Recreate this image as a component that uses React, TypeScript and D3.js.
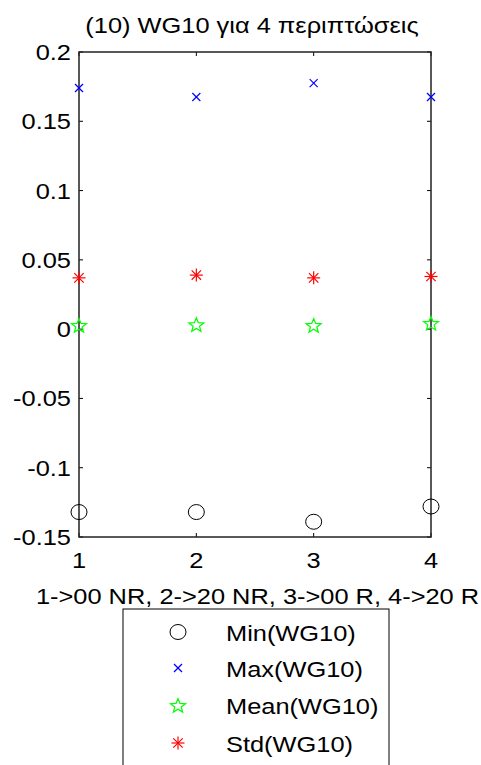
import React from "react";
import * as d3 from "d3";

const cases = [1, 2, 3, 4];
const minVals = [-0.132, -0.132, -0.139, -0.128];
const maxVals = [0.174, 0.1675, 0.1775, 0.1675];
const meanVals = [0.003, 0.0035, 0.003, 0.0045];
const stdVals = [0.037, 0.039, 0.037, 0.038];
const yTicks = [0.2, 0.15, 0.1, 0.05, 0, -0.05, -0.1, -0.15];
const yTickLabels = ["0.2", "0.15", "0.1", "0.05", "0", "-0.05", "-0.1", "-0.15"];
const xTicks = [1, 2, 3, 4];
const legendLabels = ["Min(WG10)", "Max(WG10)", "Mean(WG10)", "Std(WG10)"];
const titleText = "(10) WG10 για 4 περιπτώσεις";
const xLabelText = "1->00 NR, 2->20 NR, 3->00 R, 4->20 R";

const W = 481, H = 765;
const L = 79, R = 431, T = 52, B = 537;
const FONT = "'Liberation Sans', Arial, sans-serif";
const FS = 22;
const SX = 1.155;

function SText({ x, y, anchor, children }: { x: number; y: number; anchor?: string; children: React.ReactNode }) {
  return (
    <g transform={`translate(${x},${y}) scale(${SX},1)`}>
      <text x={0} y={0} fontSize={FS} textAnchor={anchor || "start"} fill="#000">{children}</text>
    </g>
  );
}

function Marker({ kind, x, y }: { kind: string; x: number; y: number }) {
  if (kind === "o") return <ellipse cx={x} cy={y} rx={8} ry={7.5} fill="none" stroke="#000" strokeWidth={1} />;
  if (kind === "x") {
    const s = 4;
    return (
      <g stroke="#0000ff" strokeWidth={1.2}>
        <line x1={x - s} y1={y - s} x2={x + s} y2={y + s} />
        <line x1={x - s} y1={y + s} x2={x + s} y2={y - s} />
      </g>
    );
  }
  if (kind === "p") {
    const star = d3.range(10).map((i) => {
      const a = -Math.PI / 2 + (i * Math.PI) / 5;
      const r = i % 2 === 0 ? 7.5 : 3.2;
      return [x + r * 1.05 * Math.cos(a), y + 1 + r * Math.sin(a)];
    });
    return <path d={"M" + star.map((p) => p.join(",")).join("L") + "Z"} fill="none" stroke="#00ff00" strokeWidth={1.2} />;
  }
  const s = 6.5;
  const d = s * 0.72;
  return (
    <g stroke="#ff0000" strokeWidth={1.2}>
      <line x1={x - s} y1={y} x2={x + s} y2={y} />
      <line x1={x} y1={y - s} x2={x} y2={y + s} />
      <line x1={x - d} y1={y - d} x2={x + d} y2={y + d} />
      <line x1={x - d} y1={y + d} x2={x + d} y2={y - d} />
    </g>
  );
}

export default function App() {
  const x = d3.scaleLinear().domain([1, 4]).range([L, R]);
  const y = d3.scaleLinear().domain([-0.15, 0.2]).range([B, T]);
  const series = [
    { kind: "o", vals: minVals },
    { kind: "x", vals: maxVals },
    { kind: "p", vals: meanVals },
    { kind: "*", vals: stdVals },
  ];
  const legendY = [632, 668, 705, 743];
  return (
    <svg width={W} height={H} style={{ position: "absolute", left: 0, top: 0, background: "#fff" }} fontFamily={FONT}>
      <rect x={0} y={0} width={W} height={H} fill="#fff" />
      <SText x={252} y={33} anchor="middle">{titleText}</SText>
      <g stroke="#000" strokeWidth={1}>
        {yTicks.map((t, i) => (
          <g key={"yt" + i}>
            <line x1={L} x2={L + 4} y1={y(t)} y2={y(t)} />
            <line x1={R} x2={R - 4} y1={y(t)} y2={y(t)} />
          </g>
        ))}
        {xTicks.map((t, i) => (
          <g key={"xt" + i}>
            <line x1={x(t)} x2={x(t)} y1={B} y2={B - 4} />
            <line x1={x(t)} x2={x(t)} y1={T} y2={T + 4} />
          </g>
        ))}
      </g>
      <rect x={L} y={T} width={R - L} height={B - T} fill="none" stroke="#222" strokeWidth={1.5} />
      {yTicks.map((t, i) => (
        <SText key={"yl" + i} x={71} y={y(t) + 8} anchor="end">{yTickLabels[i]}</SText>
      ))}
      {xTicks.map((t, i) => (
        <SText key={"xl" + i} x={x(t)} y={568} anchor="middle">{String(t)}</SText>
      ))}
      <SText x={257.5} y={604} anchor="middle">{xLabelText}</SText>
      {series.map((s) =>
        s.vals.map((v, i) => <Marker key={s.kind + i} kind={s.kind} x={x(cases[i])} y={y(v)} />)
      )}
      <rect x={123} y={609} width={266} height={200} fill="#fff" stroke="#000" strokeWidth={1} />
      {series.map((s, i) => (
        <g key={"lg" + i}>
          <Marker kind={s.kind} x={178} y={legendY[i]} />
          <SText x={226} y={legendY[i] + 9}>{legendLabels[i]}</SText>
        </g>
      ))}
    </svg>
  );
}
